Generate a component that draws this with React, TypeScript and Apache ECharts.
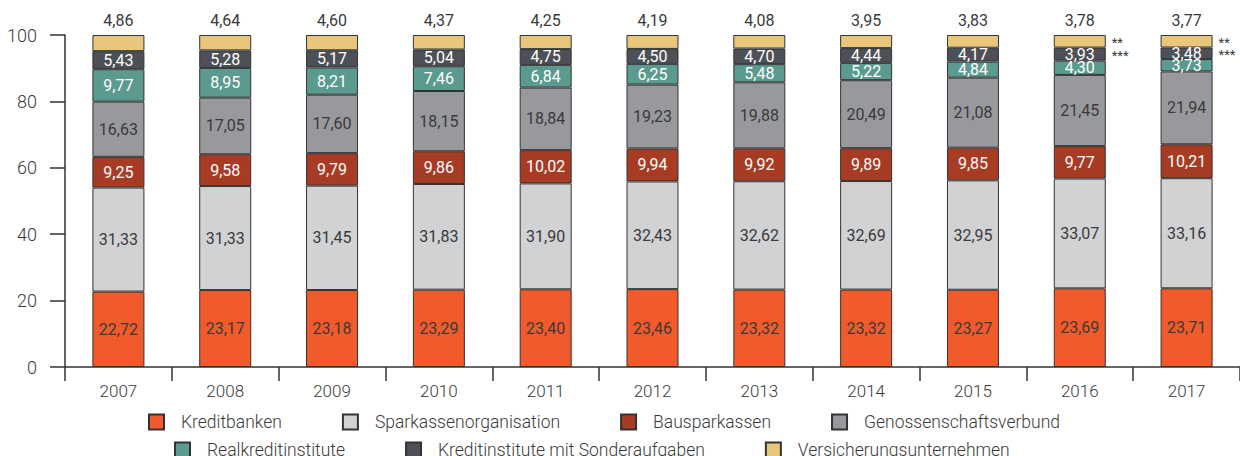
import React, { useEffect, useRef } from "react";
import * as echarts from "echarts";

const years = ["2007", "2008", "2009", "2010", "2011", "2012", "2013", "2014", "2015", "2016", "2017"];
const kreditbanken = [22.72, 23.17, 23.18, 23.29, 23.40, 23.46, 23.32, 23.32, 23.27, 23.69, 23.71];
const sparkassen = [31.33, 31.33, 31.45, 31.83, 31.90, 32.43, 32.62, 32.69, 32.95, 33.07, 33.16];
const bausparkassen = [9.25, 9.58, 9.79, 9.86, 10.02, 9.94, 9.92, 9.89, 9.85, 9.77, 10.21];
const genossenschaft = [16.63, 17.05, 17.60, 18.15, 18.84, 19.23, 19.88, 20.49, 21.08, 21.45, 21.94];
const realkredit = [9.77, 8.95, 8.21, 7.46, 6.84, 6.25, 5.48, 5.22, 4.84, 4.30, 3.73];
const sonderaufgaben = [5.43, 5.28, 5.17, 5.04, 4.75, 4.50, 4.70, 4.44, 4.17, 3.93, 3.48];
const versicherung = [4.86, 4.64, 4.60, 4.37, 4.25, 4.19, 4.08, 3.95, 3.83, 3.78, 3.77];
const yTicks = { min: 0, max: 100, interval: 20 };
// footnote marks: [year, series index (0-based in stack), text]
const notes: [string, number, string][] = [
  ["2016", 6, "**"],
  ["2016", 5, "***"],
  ["2017", 6, "**"],
  ["2017", 5, "***"],
];

const FONT = "Roboto, 'Noto Sans', sans-serif";
const DARK = "#333333";
const TXT = "#3a3a3a";

const seriesDefs = [
  { name: "Kreditbanken", data: kreditbanken, color: "#F15A2A", label: TXT },
  { name: "Sparkassenorganisation", data: sparkassen, color: "#D1D2D4", label: TXT },
  { name: "Bausparkassen", data: bausparkassen, color: "#A83B24", label: "#ffffff" },
  { name: "Genossenschaftsverbund", data: genossenschaft, color: "#98999D", label: TXT },
  { name: "Realkreditinstitute", data: realkredit, color: "#5A9A8F", label: "#ffffff" },
  { name: "Kreditinstitute mit Sonderaufgaben", data: sonderaufgaben, color: "#4D5157", label: "#ffffff" },
  { name: "Versicherungsunternehmen", data: versicherung, color: "#E8C77D", label: TXT },
];

const fmt = (v: number) => v.toFixed(2).replace(".", ",");

export default function App() {
  const ref = useRef<HTMLDivElement>(null);
  useEffect(() => {
    document.body.style.margin = "0";
    if (!ref.current) return;
    const chart = echarts.init(ref.current, null, { renderer: "svg" });
    const legendCommon = {
      orient: "horizontal" as const,
      itemWidth: 15,
      itemHeight: 15,
      itemGap: 60,
      padding: 0,
      selectedMode: false,
      icon: "rect",
      textStyle: { fontFamily: FONT, fontSize: 17.5, fontWeight: 300, color: TXT, padding: [0, 0, 0, 12] },
    };
    chart.setOption({
      animation: false,
      textStyle: { fontFamily: FONT },
      grid: { left: 65, top: 35, width: 1182, height: 332, containLabel: false },
      legend: [
        {
          ...legendCommon,
          left: 148,
          top: 413,
          data: seriesDefs.slice(0, 4).map((s) => s.name),
        },
        {
          ...legendCommon,
          left: 174,
          top: 441,
          data: seriesDefs.slice(4).map((s) => s.name),
        },
      ],
      xAxis: {
        type: "category",
        data: years,
        axisLine: { lineStyle: { color: DARK, width: 1.5 } },
        axisTick: { show: true, length: 14, lineStyle: { color: DARK, width: 1.5 } },
        axisLabel: { fontSize: 17, fontWeight: 300, color: TXT, margin: 15, fontFamily: FONT },
      },
      yAxis: {
        type: "value",
        min: yTicks.min,
        max: yTicks.max,
        interval: yTicks.interval,
        splitLine: { show: false },
        axisLine: { show: true, lineStyle: { color: DARK, width: 1.5 } },
        axisTick: { show: true, length: 15, lineStyle: { color: DARK, width: 1.5 } },
        axisLabel: { fontSize: 18, fontWeight: 300, color: TXT, margin: 28, fontFamily: FONT },
      },
      series: seriesDefs.map((s, i) => ({
        name: s.name,
        type: "bar",
        stack: "total",
        barWidth: 52,
        data: s.data,
        itemStyle: { color: s.color, borderColor: DARK, borderWidth: 1 },
        emphasis: { disabled: true },
        label: {
          show: true,
          position: i === 6 ? "top" : "inside",
          distance: 7,
          fontSize: 16,
          fontFamily: FONT,
          color: s.label,
          formatter: (p: any) => fmt(p.value),
        },
      })),
    });

    const graphics = notes.map(([year, si, text]) => {
      const idx = years.indexOf(year);
      let base = 0;
      for (let k = 0; k < si; k++) base += seriesDefs[k].data[idx];
      const mid = base + seriesDefs[si].data[idx] / 2;
      const pt = chart.convertToPixel({ xAxisIndex: 0, yAxisIndex: 0 }, [idx, mid]) as number[];
      return {
        type: "text",
        x: pt[0] + 26 + 6,
        y: pt[1] + 1,
        style: {
          text,
          fontSize: 13,
          fontFamily: FONT,
          fill: TXT,
          align: "left",
          verticalAlign: "middle",
        },
      };
    });
    chart.setOption({ graphic: graphics });

    return () => chart.dispose();
  }, []);
  return <div ref={ref} style={{ width: 1240, height: 456 }} />;
}
